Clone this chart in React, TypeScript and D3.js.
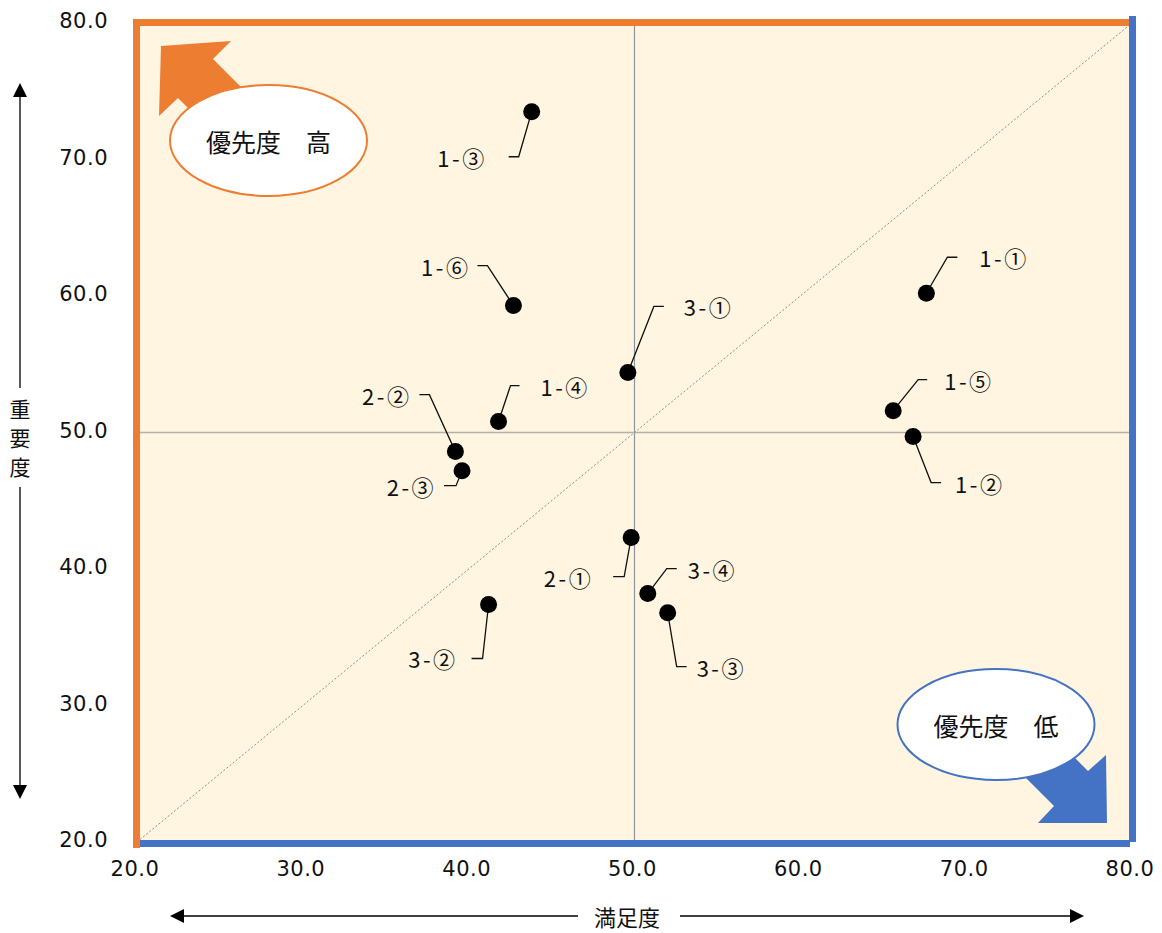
import { useEffect, useRef } from "react";
import * as d3 from "d3";

// 項目ラベル / 満足度 (x) / 重要度 (y)
const itemLabels = ["1-①", "1-②", "1-③", "1-④", "1-⑤", "1-⑥", "2-①", "2-②", "2-③", "3-①", "3-②", "3-③", "3-④"];
const satisfaction = [67.6, 66.8, 43.8, 41.8, 65.6, 42.7, 49.8, 39.2, 39.6, 49.6, 41.2, 52.0, 50.8];
const importance = [60.2, 49.7, 73.5, 50.8, 51.6, 59.3, 42.3, 48.6, 47.2, 54.4, 37.4, 36.8, 38.2];

const xTicks = [20, 30, 40, 50, 60, 70, 80];
const yTicks = [20, 30, 40, 50, 60, 70, 80];

const xTitle = "満足度";
const yTitle = ["重", "要", "度"];
const highLabel = "優先度　高";
const lowLabel = "優先度　低";

// leader line layout per label: elbow dx, elbow dy, tail length, text gap
const leaderLayout: [number, number, number, number][] = [
  [21, -36, 10, 22],
  [18, 46, 10, 14],
  [-13, 45, -10, 22],
  [12, -36, 9, 21],
  [25, -31, 9, 17],
  [-26, -40, -10, 7],
  [-7, 39, -11, 20],
  [-26, -57, -10, 8],
  [-6, 15, -12, 8],
  [26, -66, 10, 20],
  [-6, 54, -11, 14],
  [9, 54, 10, 10],
  [19, -25, 10, 11],
];

const W = 1162;
const H = 933;
const ORANGE = "#ED7D31";
const BLUE = "#4472C4";
const JP = "'Noto Sans CJK JP', sans-serif";
const NUM = "'DejaVu Sans', sans-serif";

export default function App() {
  const svgRef = useRef<SVGSVGElement>(null);

  useEffect(() => {
    if (!svgRef.current) return;
    const svg = d3.select(svgRef.current);
    svg.selectAll("*").remove();

    const x = d3.scaleLinear().domain([20, 80]).range([137, 1132]);
    const y = d3.scaleLinear().domain([20, 80]).range([842, 23]);
    const fmt = d3.format(".1f");

    // plot background
    svg.append("rect")
      .attr("x", x(20))
      .attr("y", y(80))
      .attr("width", x(80) - x(20))
      .attr("height", y(20) - y(80))
      .attr("fill", "#FFF5E1");

    // center lines
    svg.append("line")
      .attr("x1", x(50)).attr("x2", x(50))
      .attr("y1", y(80)).attr("y2", y(20))
      .attr("stroke", "#8E939C").attr("stroke-width", 1.2);
    svg.append("line")
      .attr("x1", x(20)).attr("x2", x(80))
      .attr("y1", y(50)).attr("y2", y(50))
      .attr("stroke", "#B5B0A8").attr("stroke-width", 1.5);

    // diagonal
    svg.append("line")
      .attr("x1", x(20)).attr("y1", y(20))
      .attr("x2", x(80)).attr("y2", y(80))
      .attr("stroke", "#8E8E8E")
      .attr("stroke-width", 1)
      .attr("stroke-dasharray", "2,2");

    // block arrows
    const line = d3.line();
    svg.append("path")
      .attr("d", line([[161, 46], [231, 41], [213, 59], [273, 119], [238, 158], [178, 98], [159, 116]]) + "Z")
      .attr("fill", ORANGE);
    svg.append("path")
      .attr("d", line([[1107, 823], [1038, 823], [1054, 806], [994, 746], [1028, 711], [1088, 771], [1106, 755]]) + "Z")
      .attr("fill", BLUE);

    // callout ellipses
    const callouts = [
      { cx: 268.5, cy: 140.5, color: ORANGE, text: highLabel },
      { cx: 996, cy: 724.5, color: BLUE, text: lowLabel },
    ];
    callouts.forEach(c => {
      svg.append("ellipse")
        .attr("cx", c.cx).attr("cy", c.cy)
        .attr("rx", 98.5).attr("ry", 55.5)
        .attr("fill", "#fff")
        .attr("stroke", c.color)
        .attr("stroke-width", 2);
      svg.append("text")
        .attr("x", c.cx).attr("y", c.cy)
        .attr("text-anchor", "middle")
        .attr("dominant-baseline", "central")
        .attr("font-family", JP)
        .attr("font-size", 25)
        .attr("fill", "#111")
        .text(c.text);
    });

    // leader lines + labels
    itemLabels.forEach((lab, i) => {
      const px = x(satisfaction[i]);
      const py = y(importance[i]);
      const [dx, dy, tail, gap] = leaderLayout[i];
      const ex = px + dx;
      const ey = py + dy;
      const tx = ex + tail;
      svg.append("path")
        .attr("d", line([[px, py], [ex, ey], [tx, ey]]))
        .attr("fill", "none")
        .attr("stroke", "#111")
        .attr("stroke-width", 1.3);
      svg.append("text")
        .attr("x", tail > 0 ? tx + gap : tx - gap)
        .attr("y", ey)
        .attr("text-anchor", tail > 0 ? "start" : "end")
        .attr("dominant-baseline", "central")
        .attr("font-family", JP)
        .attr("font-size", 22)
        .attr("letter-spacing", 2.5)
        .attr("fill", "#111")
        .text(lab);
    });

    // points
    svg.append("g")
      .selectAll("circle")
      .data(itemLabels.map((_, i) => i))
      .join("circle")
      .attr("cx", i => x(satisfaction[i]))
      .attr("cy", i => y(importance[i]))
      .attr("r", 8.5)
      .attr("fill", "#000");

    // frame: orange left/top, blue right/bottom
    svg.append("rect")
      .attr("x", x(20) - 4).attr("y", y(80) - 4)
      .attr("width", 7).attr("height", y(20) - y(80) + 10)
      .attr("fill", ORANGE);
    svg.append("rect")
      .attr("x", x(20) - 4).attr("y", y(80) - 4)
      .attr("width", x(80) - x(20) + 1).attr("height", 7)
      .attr("fill", ORANGE);
    svg.append("rect")
      .attr("x", x(80) - 3).attr("y", y(80) - 7)
      .attr("width", 7).attr("height", y(20) - y(80) + 7)
      .attr("fill", BLUE);
    svg.append("rect")
      .attr("x", x(20) + 3).attr("y", y(20) - 2)
      .attr("width", x(80) - x(20) - 5).attr("height", 7)
      .attr("fill", BLUE);

    // tick labels
    svg.append("g")
      .selectAll("text")
      .data(yTicks)
      .join("text")
      .attr("x", 108)
      .attr("y", d => y(d) - 2)
      .attr("text-anchor", "end")
      .attr("dominant-baseline", "central")
      .attr("font-family", NUM)
      .attr("font-size", 21)
      .attr("letter-spacing", 0.5)
      .attr("fill", "#111")
      .text(d => fmt(d));
    svg.append("g")
      .selectAll("text")
      .data(xTicks)
      .join("text")
      .attr("x", d => x(d) - 2)
      .attr("y", 869)
      .attr("text-anchor", "middle")
      .attr("dominant-baseline", "central")
      .attr("font-family", NUM)
      .attr("font-size", 21)
      .attr("letter-spacing", 0.5)
      .attr("fill", "#111")
      .text(d => fmt(d));

    // y axis title with double arrow
    const ax = 20;
    svg.append("line").attr("x1", ax).attr("x2", ax).attr("y1", 96).attr("y2", 388)
      .attr("stroke", "#000").attr("stroke-width", 1.3);
    svg.append("line").attr("x1", ax).attr("x2", ax).attr("y1", 487).attr("y2", 786)
      .attr("stroke", "#000").attr("stroke-width", 1.3);
    svg.append("path").attr("d", line([[ax, 83], [ax - 7, 97], [ax + 7, 97]]) + "Z").attr("fill", "#000");
    svg.append("path").attr("d", line([[ax, 799], [ax - 7, 785], [ax + 7, 785]]) + "Z").attr("fill", "#000");
    yTitle.forEach((ch, i) => {
      svg.append("text")
        .attr("x", ax).attr("y", 408 + i * 29)
        .attr("text-anchor", "middle")
        .attr("dominant-baseline", "central")
        .attr("font-family", JP)
        .attr("font-size", 21)
        .attr("fill", "#111")
        .text(ch);
    });

    // x axis title with double arrow
    const ay = 916;
    svg.append("line").attr("x1", 183).attr("x2", 578).attr("y1", ay).attr("y2", ay)
      .attr("stroke", "#000").attr("stroke-width", 1.3);
    svg.append("line").attr("x1", 680).attr("x2", 1071).attr("y1", ay).attr("y2", ay)
      .attr("stroke", "#000").attr("stroke-width", 1.3);
    svg.append("path").attr("d", line([[170, ay], [184, ay - 7], [184, ay + 7]]) + "Z").attr("fill", "#000");
    svg.append("path").attr("d", line([[1084, ay], [1070, ay - 7], [1070, ay + 7]]) + "Z").attr("fill", "#000");
    svg.append("text")
      .attr("x", 627).attr("y", ay)
      .attr("text-anchor", "middle")
      .attr("dominant-baseline", "central")
      .attr("font-family", JP)
      .attr("font-size", 22)
      .attr("fill", "#111")
      .text(xTitle);
  }, []);

  return (
    <div style={{ position: "absolute", left: 0, top: 0 }}>
      <svg ref={svgRef} width={W} height={H} style={{ display: "block", background: "#fff" }} />
    </div>
  );
}
